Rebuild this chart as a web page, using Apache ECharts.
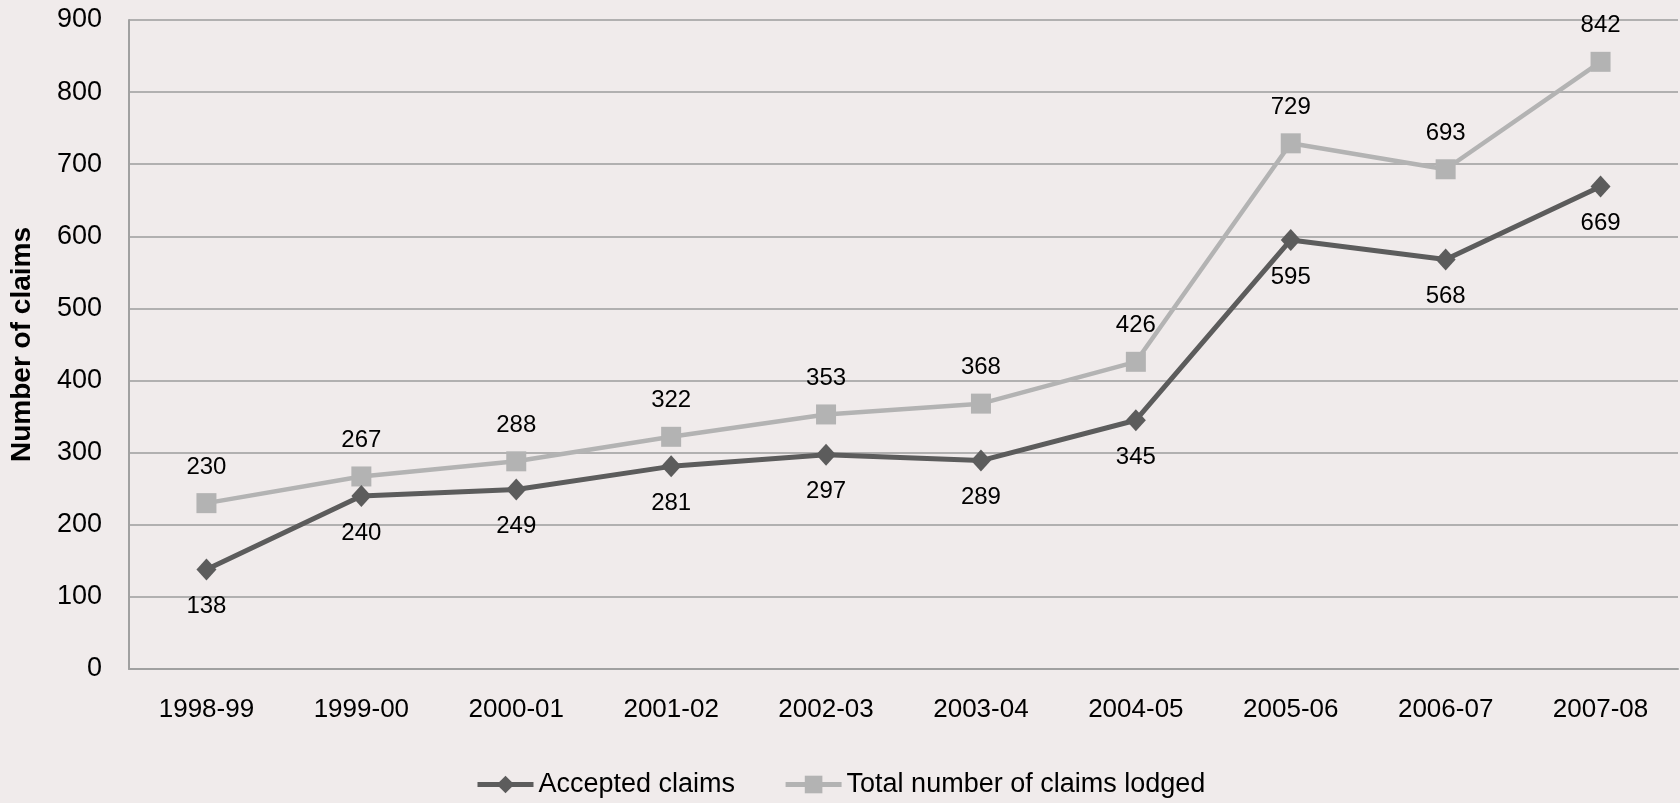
<!DOCTYPE html>
<html>
<head>
<meta charset="utf-8">
<script src="https://cdn.jsdelivr.net/npm/echarts@6/dist/echarts.min.js"></script>
<style>
  html, body { margin: 0; padding: 0; background: #f0ebeb; }
  #chart { width: 1680px; height: 803px; }
</style>
</head>
<body>
<div id="chart"></div>
<script>
// Claims per financial year
const years = ['1998-99', '1999-00', '2000-01', '2001-02', '2002-03', '2003-04', '2004-05', '2005-06', '2006-07', '2007-08'];
const acceptedClaims = [138, 240, 249, 281, 297, 289, 345, 595, 568, 669];
const totalClaimsLodged = [230, 267, 288, 322, 353, 368, 426, 729, 693, 842];
const yTicks = { min: 0, max: 900, interval: 100 };

const FONT = '"Liberation Sans", Arial, sans-serif';
const chart = echarts.init(document.getElementById('chart'));

chart.setOption({
  backgroundColor: '#f0ebeb',
  animation: false,
  grid: { left: 129, right: 2, top: 20, bottom: 134 },
  legend: {
    top: 766,
    left: 470,
    itemWidth: 56,
    itemHeight: 22,
    itemGap: 48,
    lineStyle: { width: 5 },
    textStyle: { fontFamily: FONT, fontSize: 27, color: '#000' },
    data: ['Accepted claims', 'Total number of claims lodged']
  },
  xAxis: {
    type: 'category',
    data: years,
    boundaryGap: true,
    axisLine: { lineStyle: { color: '#a0a0a0', width: 2 } },
    axisTick: { show: false },
    axisLabel: { fontFamily: FONT, fontSize: 26, color: '#000', margin: 28 }
  },
  yAxis: {
    type: 'value',
    min: yTicks.min,
    max: yTicks.max,
    interval: yTicks.interval,
    name: 'Number of claims',
    nameLocation: 'middle',
    nameGap: 93,
    nameTextStyle: { fontFamily: FONT, fontSize: 28, fontWeight: 'bold', color: '#000' },
    axisLine: { show: true, lineStyle: { color: '#a0a0a0', width: 2 } },
    axisTick: { show: false },
    axisLabel: { fontFamily: FONT, fontSize: 27, color: '#000', margin: 27 },
    splitLine: { lineStyle: { color: '#9c9c9c', width: 1.5 } }
  },
  series: [
    {
      name: 'Accepted claims',
      type: 'line',
      data: acceptedClaims,
      symbol: 'diamond',
      symbolSize: [20, 22],
      itemStyle: { color: '#5c5c5c' },
      lineStyle: { color: '#5c5c5c', width: 5 },
      z: 3,
      label: {
        show: true, position: 'bottom', distance: 14,
        fontFamily: FONT, fontSize: 24, color: '#000'
      }
    },
    {
      name: 'Total number of claims lodged',
      type: 'line',
      data: totalClaimsLodged,
      symbol: 'rect',
      symbolSize: 20,
      itemStyle: { color: '#b3b3b3' },
      lineStyle: { color: '#b3b3b3', width: 4.5 },
      z: 2,
      label: {
        show: true, position: 'top', distance: 14,
        fontFamily: FONT, fontSize: 24, color: '#000'
      }
    }
  ]
});
</script>
</body>
</html>
